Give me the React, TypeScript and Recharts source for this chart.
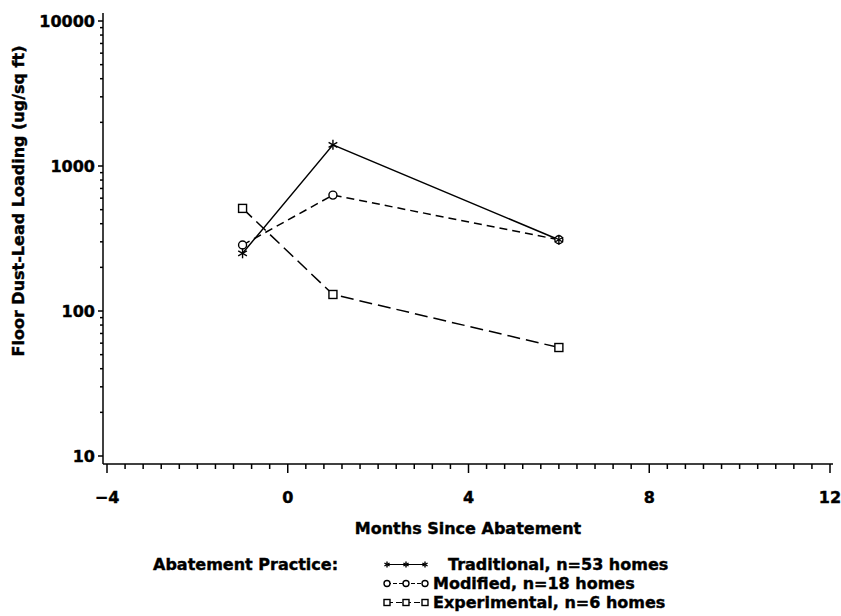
import React from "react"
import { LineChart, Line, XAxis, YAxis, Legend } from "recharts"

const months = [-1, 1, 6]
const traditional = [250, 1400, 310]
const modified = [285, 630, 310]
const experimental = [510, 130, 56]

const xMajorTicks = [-4, 0, 4, 8, 12]
const yMajorTicks = [10, 100, 1000, 10000]
const seriesNames = ["Traditional, n=53 homes", "Modified, n=18 homes", "Experimental, n=6 homes"]

// minor ticks every 0.4 month, log minors 2..9 per decade
const xTicks = Array.from({ length: 41 }, (_, i) => Math.round((-4 + i * 0.4) * 10) / 10)
const yTicks = [10, 100, 1000]
  .flatMap((d) => [1, 2, 3, 4, 5, 6, 7, 8, 9].map((m) => m * d))
  .concat(10000)

const data = months.map((m, i) => ({
  month: m,
  traditional: traditional[i],
  modified: modified[i],
  experimental: experimental[i],
}))

const FONT = "'DejaVu Sans', sans-serif"
const svgText = { fontSize: 16, fontWeight: "bold", fontFamily: FONT, fill: "#000", stroke: "#000", strokeWidth: 0.4 }

function XTick({ x, y, payload }: any) {
  const major = xMajorTicks.includes(payload.value)
  const label = payload.value < 0 ? `\u2212${Math.abs(payload.value)}` : `${payload.value}`
  return (
    <g>
      <line x1={x} x2={x} y1={y} y2={y + (major ? 9 : 5)} stroke="#000" strokeWidth={1.5} />
      {major && (
        <text x={x} y={y + 33} textAnchor="middle" dominantBaseline="central" {...svgText}>
          {label}
        </text>
      )}
    </g>
  )
}

function YTick({ x, y, payload }: any) {
  const major = yMajorTicks.includes(payload.value)
  return (
    <g>
      <line x1={x - (major ? 5 : 3)} x2={x} y1={y} y2={y} stroke="#000" strokeWidth={1.5} />
      {major && (
        <text x={x - 8} y={y} textAnchor="end" dominantBaseline="central" {...svgText}>
          {payload.value}
        </text>
      )}
    </g>
  )
}

function StarDot({ cx, cy, size = 5 }: any) {
  if (cx == null || cy == null) return null
  const d = size * 0.87
  return (
    <g stroke="#000" strokeWidth={1.4}>
      <line x1={cx} x2={cx} y1={cy - size} y2={cy + size} />
      <line x1={cx - d} x2={cx + d} y1={cy - size / 2} y2={cy + size / 2} />
      <line x1={cx - d} x2={cx + d} y1={cy + size / 2} y2={cy - size / 2} />
    </g>
  )
}

function CircleDot({ cx, cy, size = 4 }: any) {
  if (cx == null || cy == null) return null
  return <circle cx={cx} cy={cy} r={size} fill="#fff" stroke="#000" strokeWidth={1.4} />
}

function SquareDot({ cx, cy, size = 4 }: any) {
  if (cx == null || cy == null) return null
  return <rect x={cx - size} y={cy - size} width={size * 2} height={size * 2} fill="#fff" stroke="#000" strokeWidth={1.4} />
}

function LegendBox() {
  const items = [
    { name: seriesNames[0], Dot: StarDot, dash: undefined, pad: 15 },
    { name: seriesNames[1], Dot: CircleDot, dash: "4 2", pad: 0 },
    { name: seriesNames[2], Dot: SquareDot, dash: "6 3", pad: 0 },
  ]
  const txt = {
    fontFamily: FONT,
    fontWeight: "bold" as const,
    fontSize: 16,
    color: "#000",
    lineHeight: "19px",
    whiteSpace: "nowrap" as const,
    WebkitTextStroke: "0.4px #000",
  }
  return (
    <div style={{ position: "relative", width: 520, height: 60 }}>
      <div style={{ ...txt, position: "absolute", left: 0, top: 0 }}>Abatement Practice:</div>
      {items.map((it, i) => (
        <div key={i} style={{ position: "absolute", left: 230, top: i * 19, height: 19, display: "flex", alignItems: "center" }}>
          <svg width={50} height={19}>
            <line x1={4} x2={42} y1={9.5} y2={9.5} stroke="#000" strokeWidth={1.2} strokeDasharray={it.dash} />
            {[4, 23, 42].map((cx) => (
              <it.Dot key={cx} cx={cx} cy={9.5} size={3} />
            ))}
          </svg>
          <span style={{ ...txt, marginLeft: it.pad }}>{it.name}</span>
        </div>
      ))}
    </div>
  )
}

export default function App() {
  return (
    <div style={{ width: 841, height: 616, background: "#fff" }}>
      <style>{"body{margin:0}"}</style>
      <LineChart width={841} height={616} data={data} margin={{ top: 13, right: 8, left: 0, bottom: 82 }}>
        <XAxis
          dataKey="month"
          type="number"
          domain={[-4, 12]}
          ticks={xTicks}
          interval={0}
          tick={<XTick />}
          tickLine={false}
          tickSize={0}
          tickMargin={0}
          height={70}
          padding={{ left: 4, right: 3 }}
          axisLine={{ stroke: "#000", strokeWidth: 1.5 }}
          label={{
            content: ({ viewBox }: any) => (
              <text x={viewBox.x + viewBox.width / 2} y={528} textAnchor="middle" dominantBaseline="central" {...svgText}>
                Months Since Abatement
              </text>
            ),
          }}
        />
        <YAxis
          type="number"
          scale="log"
          domain={[10, 10000]}
          allowDataOverflow
          ticks={yTicks}
          interval={0}
          tick={<YTick />}
          tickLine={false}
          tickSize={0}
          tickMargin={0}
          width={103}
          padding={{ top: 8, bottom: 8 }}
          axisLine={{ stroke: "#000", strokeWidth: 1.5 }}
          label={{
            content: () => (
              <text x={18} y={201} transform="rotate(-90 18 201)" textAnchor="middle" dominantBaseline="central" {...svgText}>
                Floor Dust-Lead Loading (ug/sq ft)
              </text>
            ),
          }}
        />
        <Legend
          layout="horizontal"
          verticalAlign="middle"
          align="center"
          wrapperStyle={{ position: "absolute", top: 555, left: 153, width: 520, height: 60 }}
          content={() => <LegendBox />}
        />
        <Line type="linear" dataKey="experimental" stroke="#000" strokeWidth={1.5} strokeDasharray="13 6" dot={<SquareDot />} isAnimationActive={false} />
        <Line type="linear" dataKey="modified" stroke="#000" strokeWidth={1.5} strokeDasharray="8 5" dot={<CircleDot />} isAnimationActive={false} />
        <Line type="linear" dataKey="traditional" stroke="#000" strokeWidth={1.5} dot={<StarDot />} isAnimationActive={false} />
      </LineChart>
    </div>
  )
}
